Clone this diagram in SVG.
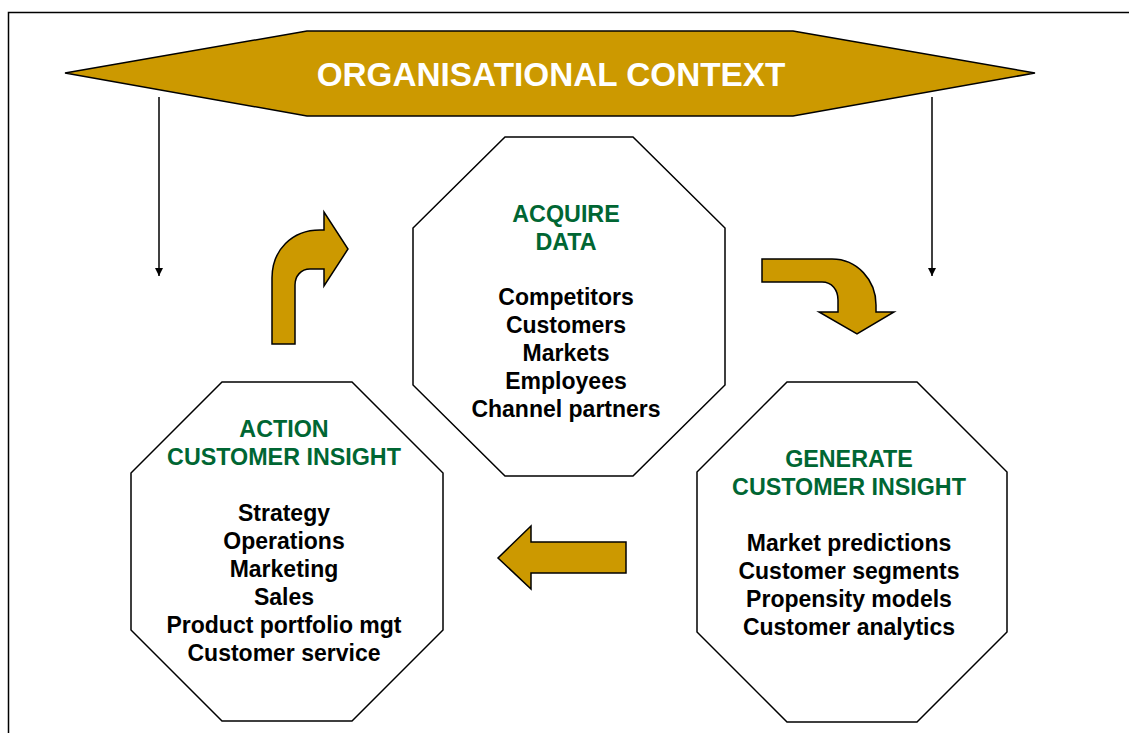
<svg xmlns="http://www.w3.org/2000/svg" width="1129" height="733" viewBox="0 0 1129 733">
  <defs>
    <marker id="ah" markerWidth="8" markerHeight="10" refX="8" refY="5" orient="auto" markerUnits="userSpaceOnUse">
      <path d="M0,1 L8,5 L0,9 Z" fill="#000"/>
    </marker>
    <style>
      .gold{fill:#CC9900;stroke:#000;stroke-width:1.5;stroke-linejoin:miter}
      .oct{fill:#fff;stroke:#000;stroke-width:1.5}
      .head{font-family:"Liberation Sans",Arial,sans-serif;font-weight:bold;font-size:23.3px;fill:#006633;text-anchor:middle}
      .item{font-family:"Liberation Sans",Arial,sans-serif;font-weight:bold;font-size:23px;fill:#000;text-anchor:middle}
      .title{font-family:"Liberation Sans",Arial,sans-serif;font-weight:bold;font-size:33.3px;fill:#fff;text-anchor:middle}
    </style>
  </defs>
  <rect width="1129" height="733" fill="#fff"/>
  <path d="M8.5,733 V12.5 H1129" fill="none" stroke="#000" stroke-width="1.5"/>

  <g id="context">
    <polygon class="gold" points="65,73 307,31 793,31 1035,73 793,116 307,116"/>
    <text class="title" x="551" y="86">ORGANISATIONAL CONTEXT</text>
  </g>

  <g id="connectors">
    <line x1="159" y1="97" x2="159" y2="276" stroke="#000" stroke-width="1.5" marker-end="url(#ah)"/>
    <line x1="932" y1="97" x2="932" y2="276" stroke="#000" stroke-width="1.5" marker-end="url(#ah)"/>
    <path class="gold" d="M272,344 L272,278 C272,250 292,230 320,230 L324,230 L324,212 L348,249 L324,286 L324,269 L310,269 C301,269 295,276 295,285 L295,344 Z"/>
    <path class="gold" d="M762,259 L832,259 C857,259 876,280 876,305 L876,312 L894,312 L857,334 L819,312 L838,312 L838,300 C838,290 832,282 822,282 L762,282 Z"/>
    <path class="gold" d="M626,542 L531,542 L531,526 L498,558 L531,589 L531,573 L626,573 Z"/>
  </g>

  <g id="acquire">
    <polygon class="oct" points="505,137 633,137 725,228 725,385 633,476 505,476 413,385 413,228"/>
    <text class="head" x="566" y="222">ACQUIRE</text>
    <text class="head" x="566" y="250">DATA</text>
    <text class="item" x="566" y="305">Competitors</text>
    <text class="item" x="566" y="333">Customers</text>
    <text class="item" x="566" y="361">Markets</text>
    <text class="item" x="566" y="389">Employees</text>
    <text class="item" x="566" y="417">Channel partners</text>
  </g>

  <g id="action">
    <polygon class="oct" points="222,382 352,382 443,473 443,630 352,721 222,721 131,630 131,473"/>
    <text class="head" x="284" y="437">ACTION</text>
    <text class="head" x="284" y="465">CUSTOMER INSIGHT</text>
    <text class="item" x="284" y="521">Strategy</text>
    <text class="item" x="284" y="549">Operations</text>
    <text class="item" x="284" y="577">Marketing</text>
    <text class="item" x="284" y="605">Sales</text>
    <text class="item" x="284" y="633">Product portfolio mgt</text>
    <text class="item" x="284" y="661">Customer service</text>
  </g>

  <g id="generate">
    <polygon class="oct" points="787,382 917,382 1007,472 1007,632 917,722 787,722 697,632 697,472"/>
    <text class="head" x="849" y="467">GENERATE</text>
    <text class="head" x="849" y="495">CUSTOMER INSIGHT</text>
    <text class="item" x="849" y="551">Market predictions</text>
    <text class="item" x="849" y="579">Customer segments</text>
    <text class="item" x="849" y="607">Propensity models</text>
    <text class="item" x="849" y="635">Customer analytics</text>
  </g>
</svg>
